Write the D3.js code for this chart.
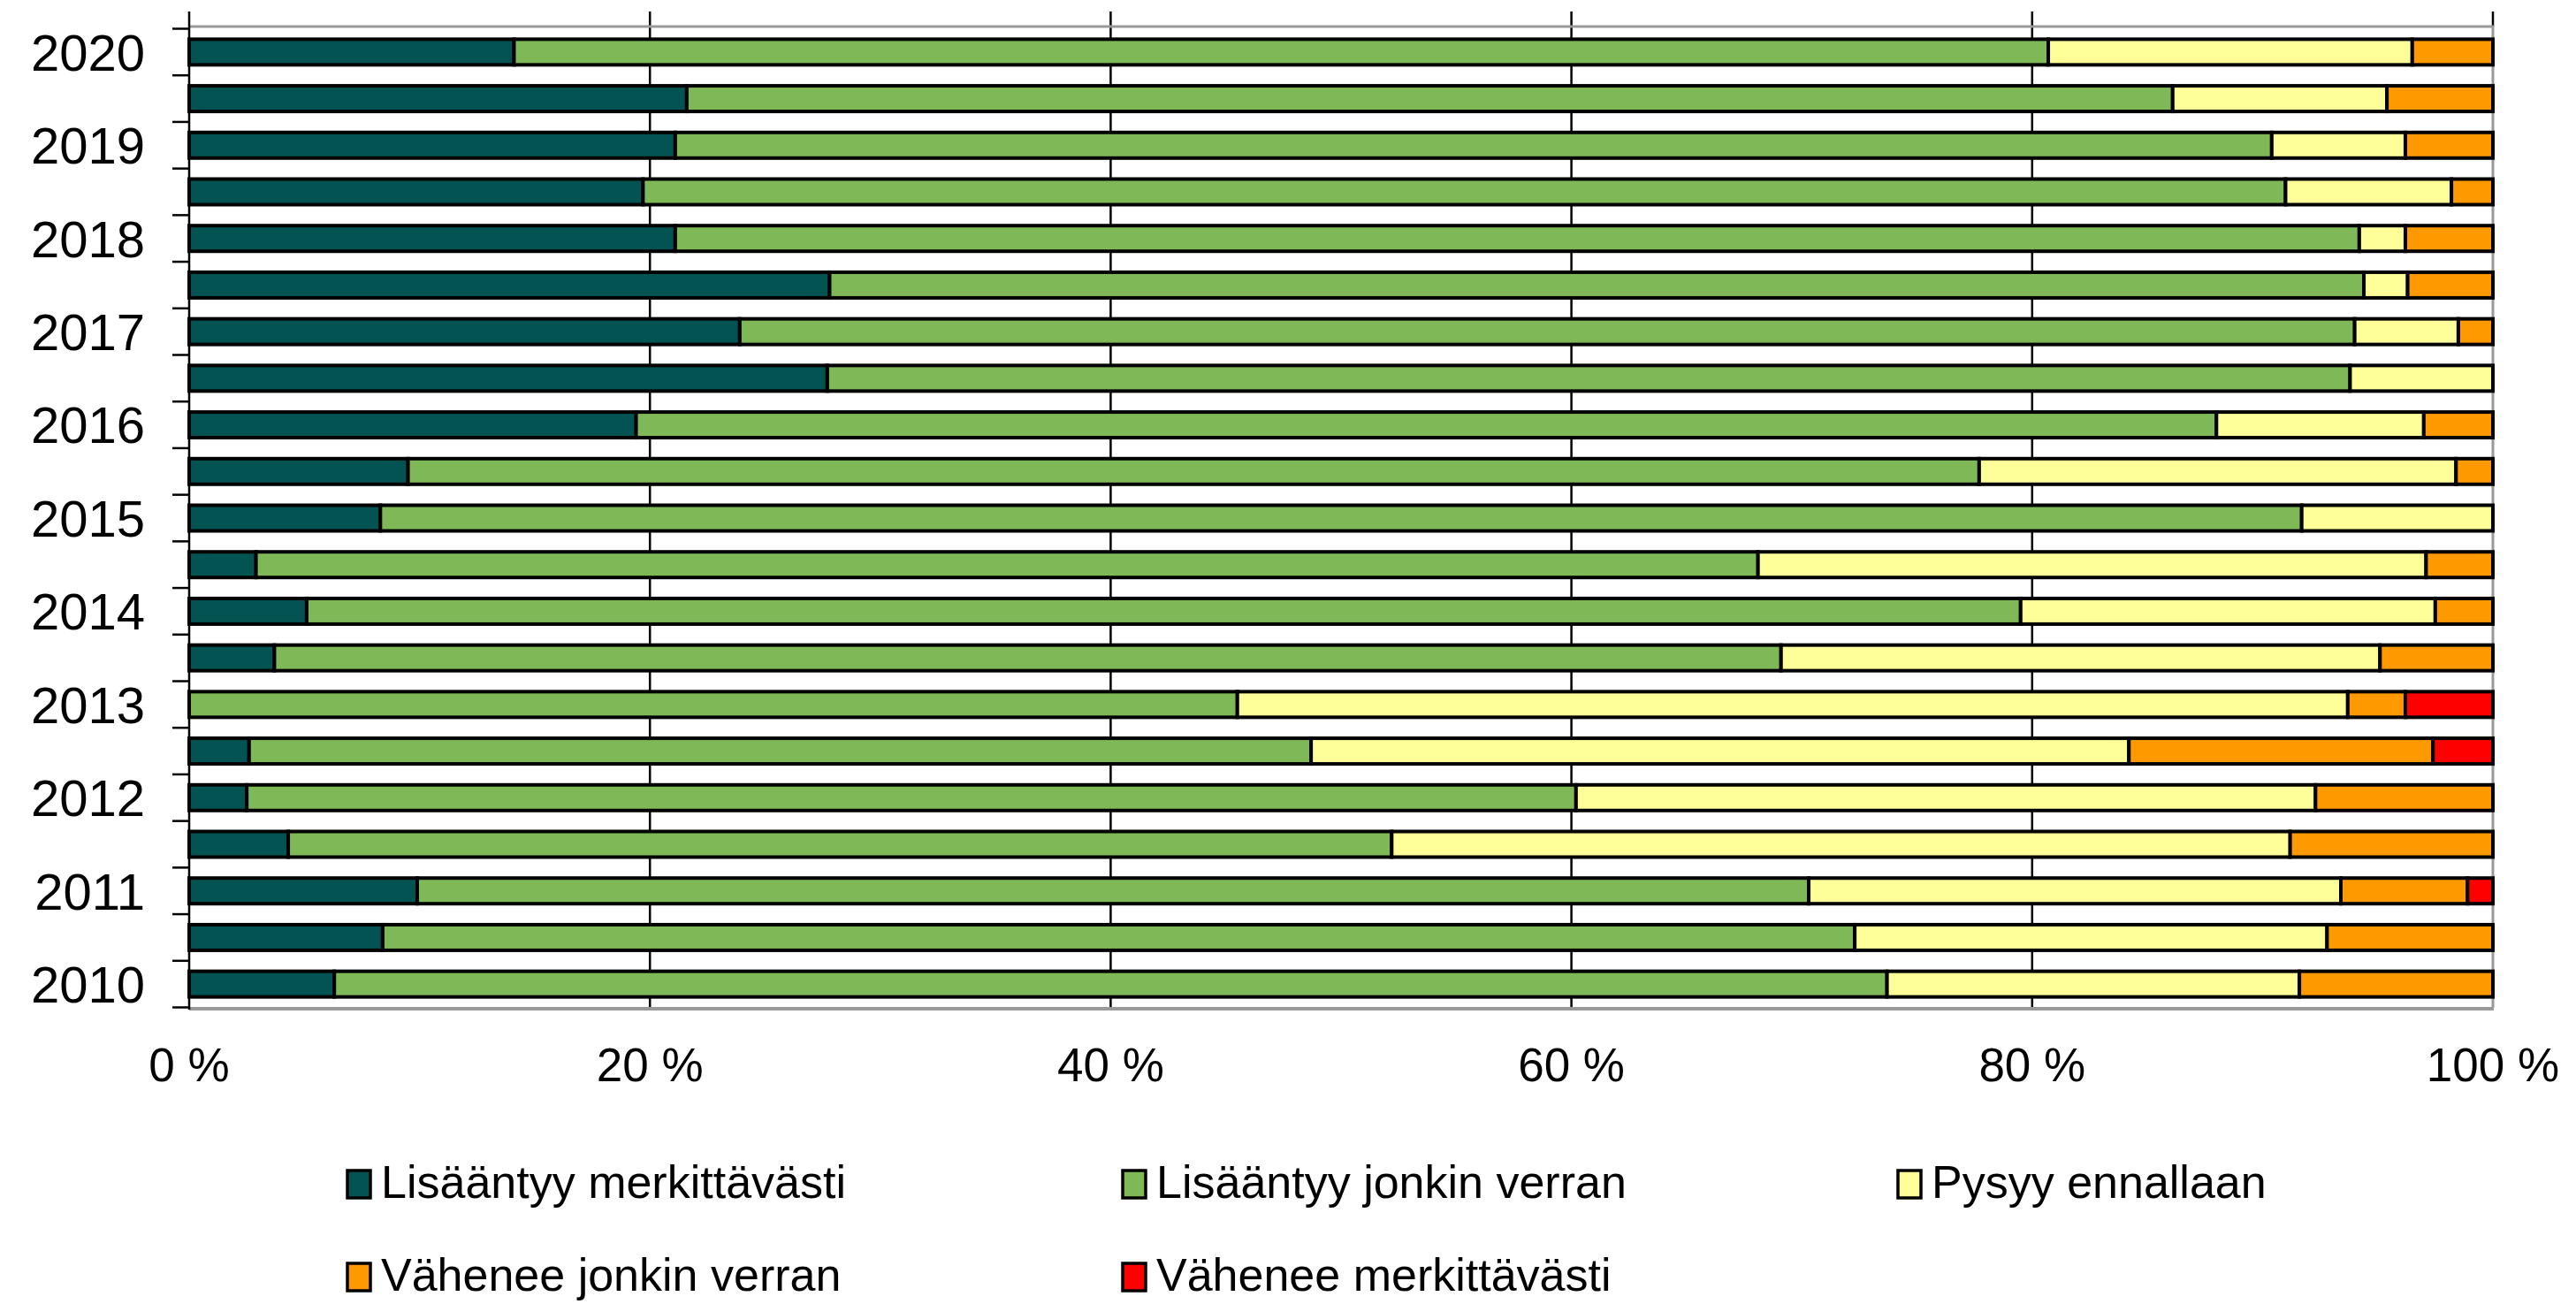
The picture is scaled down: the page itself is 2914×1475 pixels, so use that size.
<!DOCTYPE html>
<html lang="fi">
<head>
  <meta charset="UTF-8" />
  <title>Lisääntyy / vähenee 2010–2020</title>
  <style>
    html, body {
      margin: 0; padding: 0;
      background: #ffffff;
      overflow: hidden;
    }
    svg {
      font-family: "Liberation Sans", Arial, sans-serif;
      display: block;
    }
    .bar { stroke: #000; stroke-width: 4; }
    .grid { stroke: #000; stroke-width: 2.5; }
    .frame { stroke: #999; fill: none; }
    .ylab { font-size: 58px; fill: #000; }
    .xlab { font-size: 53px; fill: #000; }
    .legend text { font-size: 52px; fill: #000; }
  </style>
</head>
<body>
  <script src="https://d3js.org/d3.v7.min.js"></script>
  <script>
    // rows from top to bottom, only every other row has a year label
    const rowLabels = ["2020", "", "2019", "", "2018", "", "2017", "", "2016", "", "2015",
                       "", "2014", "", "2013", "", "2012", "", "2011", "", "2010"];

    const seriesNames = ["Lisääntyy merkittävästi", "Lisääntyy jonkin verran", "Pysyy ennallaan",
                         "Vähenee jonkin verran", "Vähenee merkittävästi"];
    const seriesColors = ["#025352", "#7fb957", "#ffff99", "#ff9900", "#ff0000"];

    // shares in %, same row order as rowLabels
    const lisaantyyPaljon = [14.1, 21.6, 21.1, 19.7, 21.1, 27.8, 23.9, 27.7, 19.4, 9.5, 8.3,
                             2.9, 5.1, 3.7, 0, 2.6, 2.5, 4.3, 9.9, 8.4, 6.3];
    const lisaantyyVahan = [66.6, 64.5, 69.3, 71.3, 73.1, 66.6, 70.1, 66.1, 68.6, 68.2, 83.4,
                            65.2, 74.4, 65.4, 45.5, 46.1, 57.7, 47.9, 60.4, 63.9, 67.4];
    const pysyy = [15.8, 9.3, 5.8, 7.2, 2.0, 1.9, 4.5, 6.2, 9.0, 20.7, 8.3,
                   29.0, 18.0, 26.0, 48.2, 35.5, 32.1, 39.0, 23.1, 20.5, 17.9];
    const vaheneeVahan = [3.5, 4.6, 3.8, 1.8, 3.8, 3.7, 1.5, 0, 3.0, 1.6, 0,
                          2.9, 2.5, 4.9, 2.5, 13.2, 7.7, 8.8, 5.5, 7.2, 8.4];
    const vaheneePaljon = [0, 0, 0, 0, 0, 0, 0, 0, 0, 0, 0,
                           0, 0, 0, 3.8, 2.6, 0, 0, 1.1, 0, 0];

    const xTicks = [0, 20, 40, 60, 80, 100];

    const W = 2914, H = 1475;
    const plotTop = 30, plotBottom = 1140;

    const series = [lisaantyyPaljon, lisaantyyVahan, pysyy, vaheneeVahan, vaheneePaljon];
    const table = rowLabels.map((label, i) => {
      const row = { i: i, label: label };
      series.forEach((s, k) => { row[k] = s[i]; });
      return row;
    });

    const svg = d3.select("body").append("svg")
      .attr("width", W)
      .attr("height", H);

    const x = d3.scaleLinear().domain([0, 100]).range([214, 2820]);
    const y = d3.scaleBand()
      .domain(d3.range(rowLabels.length))
      .range([32.5, 1139.5])
      .paddingInner(0.45)
      .paddingOuter(0.225);

    // gridlines (they stick out a bit above the frame)
    svg.append("g").selectAll("line")
      .data(xTicks.filter(t => t > 0 && t < 100))
      .join("line")
      .attr("class", "grid")
      .attr("x1", d => x(d)).attr("x2", d => x(d))
      .attr("y1", 13).attr("y2", plotBottom);

    svg.append("line")
      .attr("class", "grid")
      .attr("x1", x(100)).attr("x2", x(100))
      .attr("y1", 13).attr("y2", plotTop);

    // grey frame top, right, bottom
    svg.append("path")
      .attr("class", "frame")
      .attr("stroke-width", 3)
      .attr("d", `M${x(0)},${plotTop}H${x(100)}V${plotBottom}`);
    svg.append("line")
      .attr("class", "frame")
      .attr("stroke-width", 4)
      .attr("x1", x(0)).attr("x2", x(100) + 1)
      .attr("y1", plotBottom + 1).attr("y2", plotBottom + 1);

    // stacked bars
    const stacked = d3.stack().keys(d3.range(series.length))(table);

    svg.append("g").selectAll("g")
      .data(stacked)
      .join("g")
      .attr("fill", (d, k) => seriesColors[k])
      .selectAll("rect")
      .data(d => d.filter(v => v[1] - v[0] > 0))
      .join("rect")
      .attr("class", "bar")
      .attr("x", d => x(d[0]))
      .attr("width", d => x(d[1]) - x(d[0]))
      .attr("y", d => y(d.data.i))
      .attr("height", y.bandwidth());

    // y axis line and ticks at band borders
    const gap = (y.step() - y.bandwidth()) / 2;
    const borders = d3.range(rowLabels.length + 1).map(i => y.range()[0] + y.step() * y.paddingOuter() - gap + i * y.step());

    svg.append("line")
      .attr("stroke", "#000").attr("stroke-width", 2.5)
      .attr("x1", x(0)).attr("x2", x(0))
      .attr("y1", 13).attr("y2", plotBottom + 2);

    svg.append("g").selectAll("line")
      .data(borders)
      .join("line")
      .attr("stroke", "#000").attr("stroke-width", 2.5)
      .attr("x1", x(0) - 19).attr("x2", x(0))
      .attr("y1", d => d).attr("y2", d => d);

    svg.append("g").selectAll("text")
      .data(table.filter(d => d.label !== ""))
      .join("text")
      .attr("class", "ylab")
      .attr("x", 164)
      .attr("y", d => y(d.i) + y.bandwidth() / 2)
      .attr("dy", "0.36em")
      .attr("text-anchor", "end")
      .text(d => d.label);

    // x tick labels
    svg.append("g").selectAll("text")
      .data(xTicks)
      .join("text")
      .attr("class", "xlab")
      .attr("x", d => x(d))
      .attr("y", 1223)
      .attr("text-anchor", "middle")
      .text(d => d + " %");

    // legend, 3 per row
    const legend = svg.append("g").attr("class", "legend")
      .selectAll("g")
      .data(seriesNames)
      .join("g")
      .attr("transform", (d, k) => `translate(${393 + (k % 3) * 877},${1355 + Math.floor(k / 3) * 105})`);

    legend.append("rect")
      .attr("x", 0).attr("y", -31)
      .attr("width", 26).attr("height", 31)
      .attr("fill", (d, k) => seriesColors[k])
      .attr("stroke", "#000").attr("stroke-width", 3.5);

    legend.append("text")
      .attr("x", 38)
      .attr("y", 0)
      .text(d => d);
  </script>
</body>
</html>
